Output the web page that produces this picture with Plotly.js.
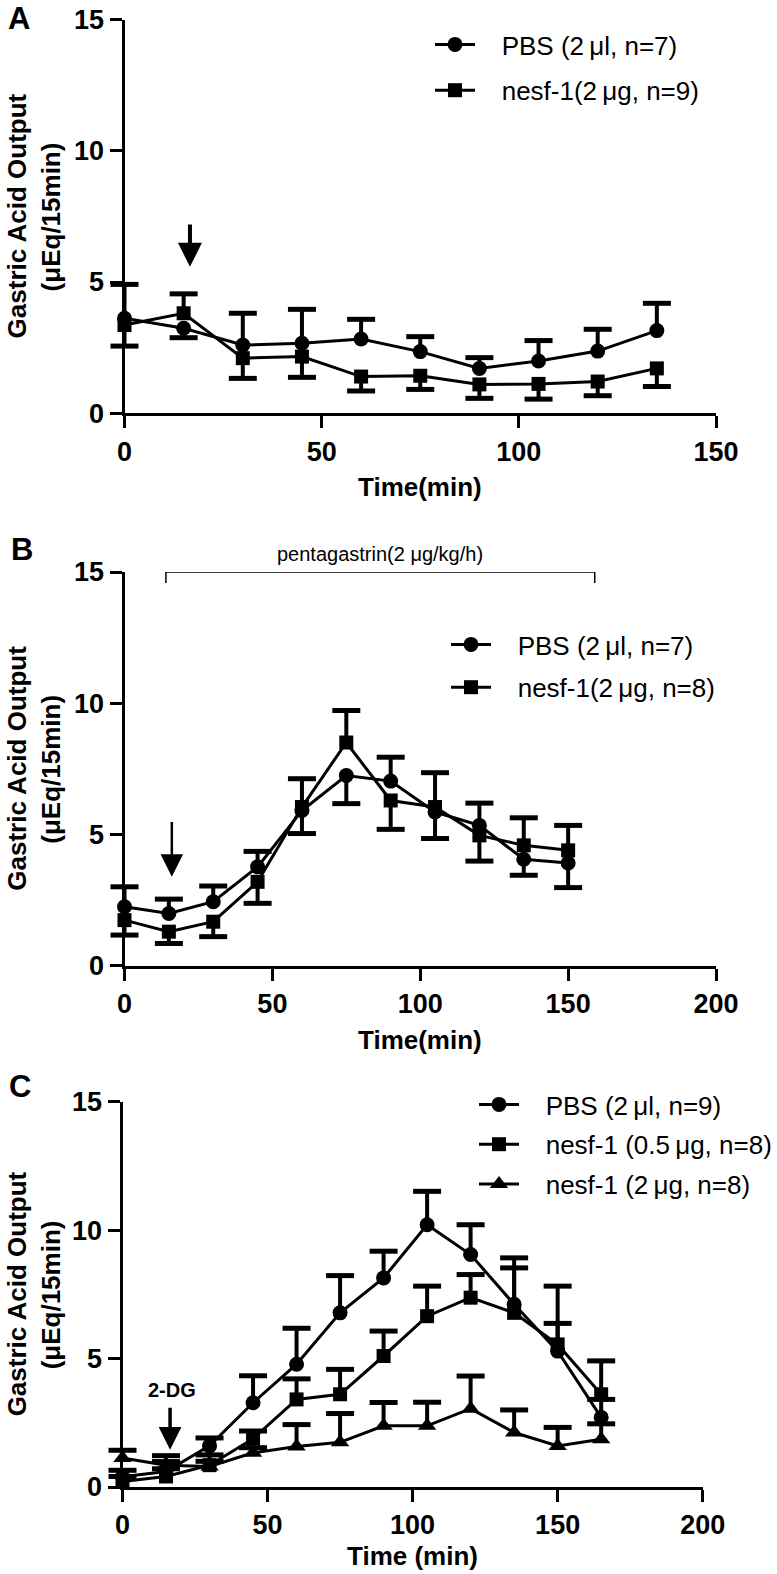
<!DOCTYPE html>
<html>
<head>
<meta charset="utf-8">
<script src="https://cdn.plot.ly/plotly-3.0.1.min.js"></script>
<style>
  body { margin: 0; background: #fff; }
  #plot { width: 777px; height: 1574px; }
</style>
</head>
<body>
<div id="plot"></div>
<script>
// ---- panel A: basal secretion ----
const timeA = [0, 15, 30, 45, 60, 75, 90, 105, 120, 135];
const pbsA = [3.62, 3.24, 2.60, 2.67, 2.83, 2.35, 1.71, 1.99, 2.37, 3.15];
const pbsAUp = [1.29, 0, 1.21, 1.29, 0.75, 0.57, 0.41, 0.78, 0.83, 1.04];
const pbsADown = [0, 0.36, 0, 0, 0, 0, 0, 0, 0, 0];
const nesfA = [3.36, 3.81, 2.10, 2.16, 1.40, 1.43, 1.10, 1.12, 1.21, 1.71];
const nesfAUp = [0, 0.74, 0, 0, 0, 0, 0, 0, 0, 0];
const nesfADown = [0.80, 0, 0.77, 0.79, 0.55, 0.52, 0.53, 0.58, 0.54, 0.69];

// ---- panel B: pentagastrin ----
const timeB = [0, 15, 30, 45, 60, 75, 90, 105, 120, 135, 150];
const pbsB = [2.24, 1.98, 2.43, 3.76, 5.91, 7.24, 7.03, 5.85, 5.34, 4.05, 3.91];
const pbsBUp = [0.76, 0.55, 0.60, 0.59, 0, 0, 0.91, 0, 0.85, 0, 0];
const pbsBDown = [0, 0, 0, 0, 0.88, 1.07, 0, 1.01, 0, 0.61, 0.94];
const nesfB = [1.73, 1.29, 1.67, 3.19, 6.04, 8.50, 6.29, 6.04, 4.96, 4.58, 4.39];
const nesfBUp = [0, 0, 0, 0, 1.08, 1.22, 0, 1.31, 0, 1.05, 0.95];
const nesfBDown = [0.57, 0.45, 0.57, 0.82, 0, 0, 1.10, 0, 0.98, 0, 0];

// ---- panel C: 2-DG ----
const timeC = [0, 15, 30, 45, 60, 75, 90, 105, 120, 135, 150, 165];
const pbsC = [0.40, 0.60, 1.60, 3.28, 4.78, 6.78, 8.14, 10.21, 9.05, 7.11, 5.29, 2.71];
const pbsCUp = [0.25, 0.39, 0.31, 1.05, 1.40, 1.45, 1.04, 1.30, 1.16, 1.81, 1.08, 0.70];
const nesfLowC = [0.21, 0.41, 0.85, 1.88, 3.41, 3.61, 5.10, 6.65, 7.37, 6.78, 5.55, 3.61];
const nesfLowCUp = [0.20, 0.30, 0.40, 0.30, 0.80, 0.97, 0.97, 1.17, 0.90, 1.75, 2.27, 1.30];
const nesfHighC = [1.13, 0.85, 0.80, 1.33, 1.58, 1.74, 2.38, 2.38, 3.05, 2.12, 1.60, 1.86];
const nesfHighCUp = [0.30, 0.37, 0.20, 0.20, 0.85, 1.12, 0.91, 0.92, 1.27, 0.88, 0.72, 0.60];

const W = 777, H = 1574;
const px = v => v / W;
const py = v => 1 - v / H;
const FONT = 'Liberation Sans, Arial, Helvetica, sans-serif';

// one-sided SEM bars: a stem from the mean plus a flat cap
function semBars(x, y, up, down, xa, ya) {
  const bx = [], by = [], bs = [];
  for (let i = 0; i < x.length; i++) {
    if (up[i] > 0) { bx.push(x[i], x[i], null); by.push(y[i], y[i] + up[i], null); bs.push(0, 20, 0); }
    if (down[i] > 0) { bx.push(x[i], x[i], null); by.push(y[i], y[i] - down[i], null); bs.push(0, 20, 0); }
  }
  return {
    x: bx, y: by, xaxis: xa, yaxis: ya, mode: 'lines+markers', showlegend: false,
    hoverinfo: 'skip', cliponaxis: false, connectgaps: false,
    line: { color: 'black', width: 4 },
    marker: { symbol: 'line-ew', size: bs, color: 'black', opacity: 1, line: { color: 'black', width: 5 } }
  };
}

function series(x, y, name, symbol, size, xa, ya, legend) {
  return {
    x: x, y: y, name: name, xaxis: xa, yaxis: ya, legend: legend, legendgroup: legend + name,
    mode: 'lines+markers', cliponaxis: false,
    line: { color: 'black', width: 3 },
    marker: { symbol: symbol, size: size, color: 'black' }
  };
}

const gap = '\u00a0\u00a0\u00a0';
const data = [
  semBars(timeA, pbsA, pbsAUp, pbsADown, 'x', 'y'),
  semBars(timeA, nesfA, nesfAUp, nesfADown, 'x', 'y'),
  series(timeA, pbsA, gap + 'PBS (2\u2009μl, n=7)', 'circle', 15, 'x', 'y', 'legend'),
  series(timeA, nesfA, gap + 'nesf-1(2\u2009μg, n=9)', 'square', 14, 'x', 'y', 'legend'),

  semBars(timeB, pbsB, pbsBUp, pbsBDown, 'x2', 'y2'),
  semBars(timeB, nesfB, nesfBUp, nesfBDown, 'x2', 'y2'),
  series(timeB, pbsB, gap + 'PBS (2\u2009μl, n=7)', 'circle', 15, 'x2', 'y2', 'legend2'),
  series(timeB, nesfB, gap + 'nesf-1(2\u2009μg, n=8)', 'square', 14, 'x2', 'y2', 'legend2'),

  semBars(timeC, pbsC, pbsCUp, pbsCUp.map(() => 0), 'x3', 'y3'),
  semBars(timeC, nesfLowC, nesfLowCUp, nesfLowCUp.map(() => 0), 'x3', 'y3'),
  semBars(timeC, nesfHighC, nesfHighCUp, nesfHighCUp.map(() => 0), 'x3', 'y3'),
  series(timeC, pbsC, gap + 'PBS (2\u2009μl, n=9)', 'circle', 15, 'x3', 'y3', 'legend3'),
  series(timeC, nesfLowC, gap + 'nesf-1 (0.5\u2009μg, n=8)', 'square', 14, 'x3', 'y3', 'legend3'),
  series(timeC, nesfHighC, gap + 'nesf-1 (2\u2009μg, n=8)', 'triangle-up', 16, 'x3', 'y3', 'legend3')
];

function axis(domain, range, dtick, anchor) {
  return {
    domain: domain, range: range, dtick: dtick, tick0: 0, anchor: anchor,
    showline: true, linewidth: 3, linecolor: 'black', mirror: false,
    ticks: 'outside', ticklen: 12, tickwidth: 3, tickcolor: 'black',
    showgrid: false, zeroline: false, fixedrange: true,
    tickfont: { family: FONT, size: 27, weight: 'bold', color: 'black' }
  };
}

// panel frames in pixels
const panelA = { left: 124.5, right: 716, top: 19.5, bottom: 413.3 };
const panelB = { left: 124.5, right: 716, top: 572, bottom: 965.5 };
const panelC = { left: 122.5, right: 702.7, top: 1101.7, bottom: 1487 };

function legendAt(left, top, gapPx) {
  return {
    x: px(left), y: py(top), xanchor: 'left', yanchor: 'top',
    bgcolor: 'rgba(0,0,0,0)', borderwidth: 0, itemwidth: 40, tracegroupgap: gapPx,
    font: { family: FONT, size: 26, color: 'black' }
  };
}

const annotations = [];
const bold = size => ({ family: FONT, size: size, weight: 'bold', color: 'black' });
function paperText(x, y, text, font, angle) {
  annotations.push({ xref: 'paper', yref: 'paper', x: px(x), y: py(y), xanchor: 'center', yanchor: 'middle',
    text: text, textangle: angle || 0, showarrow: false, font: font });
}
function yTitle(p) {
  const mid = (p.top + p.bottom) / 2;
  paperText(17, mid, 'Gastric Acid Output', bold(26), -90);
  paperText(51, mid, '(μEq/15min)', bold(26), -90);
}
function xTitle(p, text, offset) {
  paperText((p.left + p.right) / 2, p.bottom + offset, text, bold(26));
}
function arrow(xa, ya, x, tail, tip, width, size) {
  annotations.push({ xref: xa, yref: ya, axref: xa, ayref: ya, x: x, y: tip, ax: x, ay: tail, text: '',
    showarrow: true, arrowhead: 2, arrowwidth: width, arrowsize: size, arrowcolor: 'black' });
}

yTitle(panelA); yTitle(panelB); yTitle(panelC);
xTitle(panelA, 'Time(min)', 74); xTitle(panelB, 'Time(min)', 74); xTitle(panelC, 'Time (min)', 69);
paperText(19, 18, 'A', bold(31)); paperText(22, 549, 'B', bold(31)); paperText(20, 1086, 'C', bold(31));

// injection arrows
arrow('x', 'y', 16.6, 7.25, 5.58, 4, 1.2);
arrow('x2', 'y2', 16, 5.53, 3.38, 2.5, 1.8);
arrow('x3', 'y3', 16.4, 3.14, 1.45, 3.5, 1.3);
annotations.push({ xref: 'x3', yref: 'y3', x: 17, y: 3.79, xanchor: 'center', yanchor: 'middle',
  text: '2-DG', showarrow: false, font: bold(20) });

// pentagastrin infusion period
const infusion = { start: 14, end: 159, level: 15 };
annotations.push({ xref: 'x2', yref: 'y2', x: (infusion.start + infusion.end) / 2, y: infusion.level,
  xanchor: 'center', yanchor: 'bottom', yshift: 5, text: 'pentagastrin(2 μg/kg/h)', showarrow: false,
  font: { family: FONT, size: 20, color: 'black' } });
const shapes = [
  { type: 'line', xref: 'x2', yref: 'y2', x0: infusion.start, x1: infusion.end, y0: infusion.level, y1: infusion.level,
    line: { color: 'black', width: 1.5 } },
  { type: 'line', xref: 'x2', yref: 'y2', ysizemode: 'pixel', yanchor: infusion.level, y0: -11, y1: 11,
    x0: infusion.start, x1: infusion.start, line: { color: 'black', width: 1.5 } },
  { type: 'line', xref: 'x2', yref: 'y2', ysizemode: 'pixel', yanchor: infusion.level, y0: -11, y1: 11,
    x0: infusion.end, x1: infusion.end, line: { color: 'black', width: 1.5 } }
];

const layout = {
  width: W, height: H,
  margin: { l: 0, r: 0, t: 0, b: 0 },
  paper_bgcolor: 'white', plot_bgcolor: 'rgba(0,0,0,0)',
  font: { family: FONT, color: 'black' },
  showlegend: true,
  xaxis: axis([px(panelA.left), px(panelA.right)], [0, 150], 50, 'y'),
  yaxis: axis([py(panelA.bottom), py(panelA.top)], [0, 15], 5, 'x'),
  xaxis2: axis([px(panelB.left), px(panelB.right)], [0, 200], 50, 'y2'),
  yaxis2: axis([py(panelB.bottom), py(panelB.top)], [0, 15], 5, 'x2'),
  xaxis3: axis([px(panelC.left), px(panelC.right)], [0, 200], 50, 'y3'),
  yaxis3: axis([py(panelC.bottom), py(panelC.top)], [0, 15], 5, 'x3'),
  legend: legendAt(430, 21, 9),
  legend2: legendAt(446, 621, 6),
  legend3: legendAt(474, 1081, 3),
  annotations: annotations,
  shapes: shapes
};

Plotly.newPlot('plot', data, layout, { staticPlot: true });
</script>
</body>
</html>
